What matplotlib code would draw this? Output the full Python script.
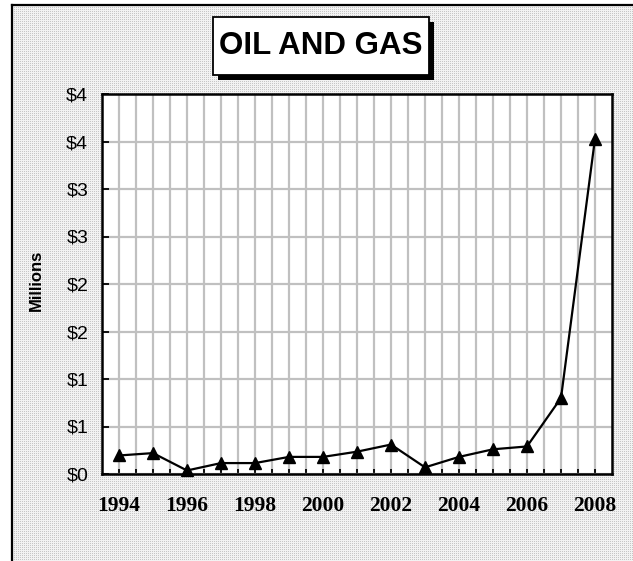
import numpy as np
import matplotlib
matplotlib.use("Agg")
import matplotlib.pyplot as plt
from matplotlib.patches import Rectangle
from matplotlib.lines import Line2D

# data (millions of dollars)
years = [1994, 1995, 1996, 1997, 1998, 1999, 2000, 2001,
         2002, 2003, 2004, 2005, 2006, 2007, 2008]
values = [0.195, 0.22, 0.037, 0.115, 0.115, 0.18, 0.18, 0.235,
          0.31, 0.07, 0.18, 0.26, 0.29, 0.80, 3.53]
year_labels = [1994, 1996, 1998, 2000, 2002, 2004, 2006, 2008]
y_ticks = [0, 0.5, 1, 1.5, 2, 2.5, 3, 3.5, 4]
y_tick_labels = ["$0", "$1", "$1", "$2", "$2", "$3", "$3", "$4", "$4"]
title = "OIL AND GAS"
ylabel = "Millions"

W, H = 633, 561
fig = plt.figure(figsize=(W / 100, H / 100), dpi=100, facecolor="white")

# helpers: pixel (from top-left) -> figure fraction
def fx(px):
    return px / W

def fy(py):
    return 1 - py / H

# dotted grey background like an excel chart area
bw, bh = W - 12, H - 5
ii, jj = np.mgrid[0:bh, 0:bw]
pat = np.where((ii % 2 == 0) & (jj % 2 == 0), 0.78, 0.95)
img = np.dstack([pat, pat, pat])
fig.figimage(img, xo=12, yo=0, zorder=-5)

# chart area border (only left and top visible)
fig.add_artist(Line2D([fx(12), fx(12)], [fy(5), fy(H)], transform=fig.transFigure,
                      color="black", lw=1.6))
fig.add_artist(Line2D([fx(12), fx(W)], [fy(5), fy(5)], transform=fig.transFigure,
                      color="black", lw=1.6))

ax = fig.add_axes([fx(102), fy(474), fx(612) - fx(102), fy(94) - fy(474)])
ax.set_zorder(2)
ax.set_facecolor("white")

ax.plot(years, values, color="black", lw=1.6, marker="^", markersize=9,
        markerfacecolor="black", markeredgecolor="black", zorder=3, clip_on=False)

ax.set_xlim(1993.5, 2008.5)
ax.set_ylim(0, 4)

ax.set_xticks(year_labels)
ax.set_xticklabels([str(y) for y in year_labels], fontfamily="Liberation Serif",
                   fontweight="bold", fontsize=15.5)
ax.set_xticks(np.arange(1994, 2008.01, 0.5), minor=True)
ax.set_yticks(y_ticks)
ax.set_yticklabels(y_tick_labels, fontfamily="Liberation Sans", fontsize=14)

ax.tick_params(axis="x", which="both", direction="in", length=3.5, width=1.3,
               color="black", pad=16)
ax.tick_params(axis="y", direction="in", length=5, width=1.3, color="black", pad=10)

ax.grid(axis="x", which="both", color="#c0c0c0", lw=1.6, zorder=1)
ax.grid(axis="y", which="major", color="#c0c0c0", lw=1.6, zorder=1)
ax.set_axisbelow(True)

for s in ax.spines.values():
    s.set_color("black")
    s.set_linewidth(1.8)

fig.text(fx(36), fy(280), ylabel, rotation=90, ha="center", va="center",
         fontfamily="Liberation Sans", fontweight="bold", fontsize=12)

# title box with drop shadow
fig.add_artist(Rectangle((fx(218), fy(80)), fx(434) - fx(218), fy(22) - fy(80),
                         transform=fig.transFigure, facecolor="black",
                         edgecolor="none", zorder=4))
fig.add_artist(Rectangle((fx(213), fy(75)), fx(429) - fx(213), fy(17) - fy(75),
                         transform=fig.transFigure, facecolor="white",
                         edgecolor="black", lw=1.3, zorder=5))
fig.text(fx(321), fy(46), title, ha="center", va="center", zorder=6,
         fontfamily="Liberation Sans", fontweight="bold", fontsize=22.5)

fig.savefig("out.png", dpi=100, facecolor=fig.get_facecolor())
